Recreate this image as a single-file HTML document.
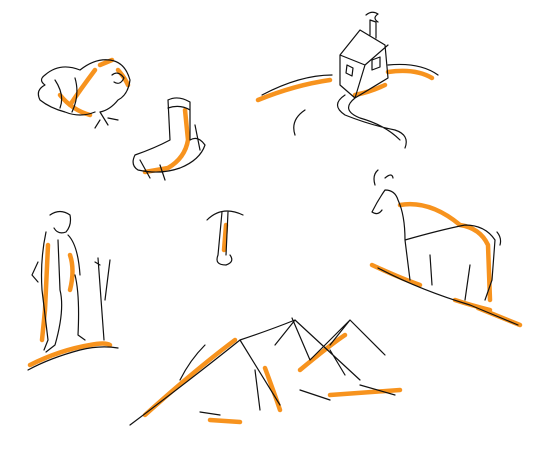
<!DOCTYPE html>
<html><head><meta charset="utf-8"><style>
html,body{margin:0;padding:0;background:#fff;width:533px;height:450px;overflow:hidden}
svg{display:block}
.k{fill:none;stroke:#111;stroke-width:1.2;stroke-linecap:round;stroke-linejoin:round}
.o{fill:none;stroke:#f7931e;stroke-width:4.5;stroke-linecap:round;stroke-linejoin:round}
</style></head><body>
<svg width="533" height="450" viewBox="0 0 533 450">
<g>
<path class="o" d="M70 105 Q80 90 95 70 M100 65 L112 60 M118 70 Q125 78 128 85 M60 95 Q72 110 90 115"/>
<path class="k" d="M45 75 Q60 62 80 70 Q95 58 110 60 Q125 62 130 80 Q128 95 118 100 Q110 110 100 112 L108 125 M95 112 Q80 118 65 112 Q50 108 40 100 Q35 90 45 85 Q38 80 45 75 M55 80 Q65 95 60 108 M75 78 Q80 95 72 112 M112 75 Q118 70 124 78 Q120 86 114 82 M108 118 L118 120 M100 120 L95 128"/>
</g>
<g>
<path class="o" d="M185 110 L188 140 Q185 158 168 168 L145 172"/>
<path class="k" d="M168 100 Q178 95 190 102 L190 140 Q198 135 205 145 Q200 160 180 168 Q160 175 138 170 Q130 165 135 155 Q155 148 170 140 L168 100 M168 108 Q180 104 190 110 M195 125 L200 150 M140 160 L150 178 M160 165 L165 180"/>
</g>
<g>
<path class="o" d="M258 100 Q295 85 330 80 M388 72 Q415 68 432 78 M355 95 Q370 92 385 85"/>
<path class="k" d="M262 95 Q300 75 332 75 M388 65 Q420 62 438 75 M340 55 L360 30 L385 45 L388 78 L355 98 L340 85 Z M340 55 L365 65 L388 45 M365 65 L355 98 M347 65 L353 68 L352 76 L346 73 Z M372 60 L380 57 L380 67 L372 70 Z M370 35 L370 20 L376 22 L376 38 M366 15 Q372 10 378 14 Q372 18 378 22 M345 95 Q330 105 345 115 Q370 125 395 130 Q410 135 405 148 M355 98 Q340 110 360 118 Q385 125 400 140 M305 110 Q290 120 295 135"/>
</g>
<g>
<path class="o" d="M226 225 L224 250"/>
<path class="k" d="M207 220 Q222 205 243 215 M222 212 L218 255 Q214 265 226 265 Q235 262 230 255 M228 212 L226 255"/>
</g>
<g>
<path class="o" d="M400 205 Q430 200 460 225 Q480 228 488 245 L490 300 M372 265 Q400 278 420 285 M455 300 Q470 305 490 310 M478 308 L520 325"/>
<path class="k" d="M375 185 Q372 175 378 170 M385 178 Q392 172 393 178 M372 212 Q378 200 385 190 Q395 190 398 200 Q405 215 405 240 L410 280 M405 240 Q440 230 465 225 Q485 225 495 240 L492 280 L485 300 M430 255 L432 285 M470 265 L465 300 M372 212 Q378 216 382 210 M497 232 Q502 238 500 245 M378 268 Q420 290 470 305 L518 325"/>
</g>
<g>
<path class="o" d="M48 245 L45 310 L42 340 M70 255 Q75 270 70 290 M30 365 Q60 350 90 345 Q105 342 110 345"/>
<path class="k" d="M50 215 Q60 208 70 215 Q72 225 66 232 Q58 235 54 228 M46 232 Q40 260 42 290 L48 340 L44 350 M68 235 Q78 245 80 275 M58 240 L60 290 M75 275 Q80 295 78 335 L85 340 M60 290 Q65 310 55 345 L46 352 M98 258 L104 340 M95 262 L100 265 M110 260 L105 300 M28 370 Q50 358 80 350 Q100 345 118 348 M38 262 L32 275 L38 282"/>
</g>
<g>
<path class="o" d="M145 415 Q195 370 235 340 M300 370 Q330 345 345 335 M330 395 L400 390 M210 420 L240 422 M265 368 Q275 395 280 410"/>
<path class="k" d="M130 425 Q190 380 240 340 L280 405 M240 340 Q270 330 295 320 L360 380 M295 320 L275 345 M292 318 L310 360 L350 320 L385 355 M350 320 L330 345 M205 345 Q190 360 180 380 M255 370 L260 410 M300 390 L330 400 M330 350 L345 375 M200 412 L220 415 M360 385 L395 395"/>
</g>
</svg>
</body></html>
